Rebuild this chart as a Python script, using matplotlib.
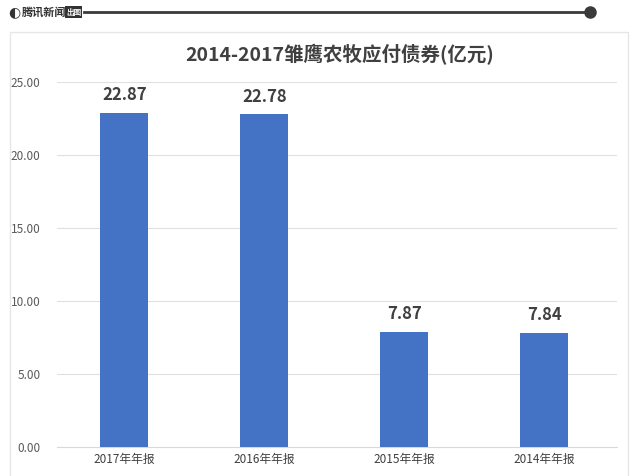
import matplotlib.pyplot as plt
from matplotlib.patches import Rectangle
import matplotlib.lines as mlines

plt.rcParams['font.family'] = ['Noto Sans CJK SC', 'DejaVu Sans']

categories = ['2017年年报', '2016年年报', '2015年年报', '2014年年报']
values = [22.87, 22.78, 7.87, 7.84]
yticks = [0, 5, 10, 15, 20, 25]

fig = plt.figure(figsize=(6.4, 4.76), dpi=100)

# header: logo + line with dot
fig.text(8/640, 1 - 12/476, '◐', fontsize=10, color='#333333', va='center', ha='left',
         family=['DejaVu Sans'])
fig.text(22/640, 1 - 12/476, '腾讯新闻', fontsize=8, color='#333333', va='center', ha='left',
         style='italic', weight='bold')
fig.text(66/640, 1 - 12/476, '出图', fontsize=5.5, color='white', va='center', ha='left',
         weight='bold', bbox=dict(boxstyle='square,pad=0.15', fc='#333333', ec='none'))
fig.add_artist(mlines.Line2D([84/640, 590/640], [1 - 12/476, 1 - 12/476],
                             color='#3a3a3a', lw=2))
fig.add_artist(mlines.Line2D([590/640], [1 - 12/476], marker='o', markersize=8,
                             color='#3a3a3a'))

# chart panel border
fig.add_artist(Rectangle((10/640, -0.01), 618/640, 1 - 32/476 + 0.01,
                         fill=False, ec='#e6e6e6', lw=1))

fig.text(0.53, 1 - 55/476, '2014-2017雏鹰农牧应付债券(亿元)', fontsize=14,
         color='#404040', ha='center', va='center', weight='bold')

ax = fig.add_axes([57/640, 29/476, 560/640, 365/476])
x = range(len(categories))
bars = ax.bar(x, values, width=0.34, color='#4472C4', zorder=3)
for xi, v in zip(x, values):
    ax.text(xi, v + 0.6, f'{v:.2f}', ha='center', va='bottom', fontsize=12,
            weight='bold', color='#404040')

ax.set_xlim(-0.48, 3.52)
ax.set_ylim(0, 25)
ax.set_yticks(yticks)
ax.set_yticklabels([f'{t:.2f}' for t in yticks], fontsize=8.5, color='#595959',
                   weight='medium')
ax.set_xticks(list(x))
ax.set_xticklabels(categories, fontsize=8.5, color='#404040', weight='medium')
ax.grid(axis='y', color='#e0e0e0', lw=0.8, zorder=0)
for s in ax.spines.values():
    s.set_visible(False)
ax.spines['bottom'].set_visible(True)
ax.spines['bottom'].set_color('#d9d9d9')
ax.tick_params(length=0, pad=4)
ax.tick_params(axis='y', pad=12)

fig.savefig('out.png', dpi=100)
